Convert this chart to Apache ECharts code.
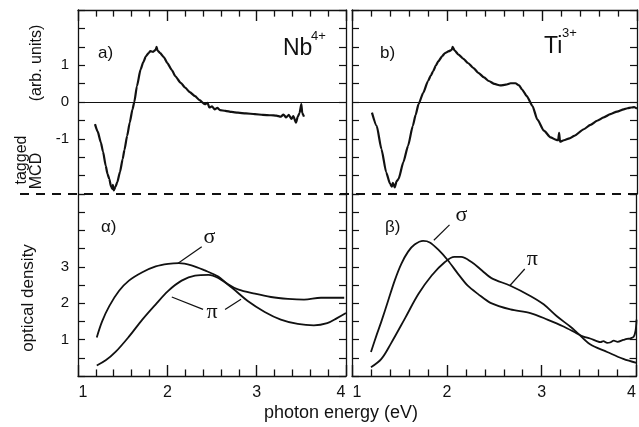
<!DOCTYPE html>
<html><head><meta charset="utf-8">
<script src="https://cdn.jsdelivr.net/npm/echarts@6/dist/echarts.min.js"></script>
<style>html,body{margin:0;padding:0;background:#fff}#c{width:639px;height:427px}</style>
</head><body><div id="c"></div>
<script>
// ---------------- data ----------------
const energyTickLabels = [1, 2, 3, 4];
const energyMinorTicks = [1.2, 1.4, 1.6, 1.8, 2.2, 2.4, 2.6, 2.8, 3.2, 3.4, 3.6, 3.8];
const mcdTickLabels = [-1, 0, 1];
const odTickLabels = [1, 2, 3];

// tagged MCD, Nb4+ : [photon energy eV, MCD]
const nbMCD = [[1.19,-0.60],[1.22,-0.80],[1.256,-1.10],[1.28,-1.35],[1.31,-1.73],[1.33,-1.95],[1.35,-2.09],[1.37,-2.30],[1.385,-2.36],[1.39,-2.25],[1.40,-2.40],[1.42,-2.30],[1.44,-2.18],[1.47,-1.90],[1.50,-1.55],[1.52,-1.30],[1.55,-0.92],[1.58,-0.55],[1.61,-0.20],[1.63,0.0],[1.66,0.43],[1.70,0.88],[1.73,1.08],[1.76,1.24],[1.79,1.33],[1.81,1.38],[1.84,1.36],[1.87,1.42],[1.88,1.50],[1.89,1.40],[1.92,1.33],[1.96,1.22],[2.00,1.06],[2.05,0.87],[2.09,0.70],[2.15,0.52],[2.20,0.39],[2.25,0.27],[2.31,0.16],[2.36,0.05],[2.42,-0.06],[2.45,-0.02],[2.47,-0.15],[2.50,-0.12],[2.53,-0.20],[2.56,-0.16],[2.59,-0.22],[2.65,-0.24],[2.72,-0.27],[2.79,-0.29],[2.88,-0.31],[2.98,-0.33],[3.07,-0.35],[3.16,-0.36],[3.22,-0.37],[3.27,-0.40],[3.30,-0.34],[3.33,-0.42],[3.36,-0.35],[3.39,-0.46],[3.41,-0.38],[3.44,-0.56],[3.46,-0.40],[3.48,-0.30],[3.50,-0.06],[3.51,-0.30],[3.53,-0.40]];

// tagged MCD, Ti3+
const tiMCD = [[1.21,-0.29],[1.26,-0.65],[1.31,-1.28],[1.36,-1.91],[1.40,-2.22],[1.42,-2.30],[1.43,-2.20],[1.45,-2.32],[1.47,-2.15],[1.49,-2.09],[1.54,-1.64],[1.59,-1.19],[1.64,-0.65],[1.67,-0.35],[1.70,-0.06],[1.75,0.25],[1.80,0.57],[1.83,0.72],[1.855,0.84],[1.88,0.98],[1.91,1.11],[1.95,1.25],[1.98,1.33],[2.02,1.38],[2.05,1.42],[2.06,1.50],[2.08,1.40],[2.12,1.29],[2.17,1.18],[2.22,1.06],[2.28,0.92],[2.33,0.79],[2.39,0.67],[2.44,0.57],[2.50,0.49],[2.56,0.45],[2.62,0.47],[2.67,0.51],[2.72,0.51],[2.76,0.45],[2.79,0.34],[2.84,0.16],[2.90,-0.11],[2.95,-0.47],[3.02,-0.78],[3.09,-0.96],[3.15,-1.03],[3.17,-1.04],[3.18,-0.84],[3.19,-1.08],[3.23,-1.04],[3.29,-0.99],[3.34,-0.92],[3.44,-0.74],[3.51,-0.62],[3.58,-0.51],[3.65,-0.42],[3.72,-0.33],[3.79,-0.26],[3.86,-0.20],[3.90,-0.17],[3.94,-0.15],[3.97,-0.14],[4.0,-0.18]];

// optical density, Nb4+
const nbSigma = [[1.21,1.06],[1.27,1.50],[1.35,1.92],[1.46,2.34],[1.57,2.62],[1.72,2.85],[1.87,3.01],[2.01,3.08],[2.13,3.10],[2.27,3.04],[2.42,2.90],[2.57,2.73],[2.68,2.52],[2.79,2.38],[2.98,2.26],[3.16,2.17],[3.35,2.12],[3.53,2.10],[3.72,2.15],[3.98,2.15]];
const nbPi = [[1.21,0.29],[1.31,0.43],[1.42,0.66],[1.57,1.08],[1.72,1.55],[1.87,1.97],[2.01,2.34],[2.16,2.62],[2.31,2.76],[2.46,2.78],[2.57,2.69],[2.72,2.43],[2.90,2.06],[3.09,1.76],[3.27,1.55],[3.46,1.43],[3.64,1.39],[3.79,1.45],[3.90,1.59],[4.0,1.73]];

// optical density, Ti3+
const tiSigma = [[1.20,0.66],[1.26,1.13],[1.31,1.50],[1.38,2.06],[1.45,2.62],[1.52,3.08],[1.59,3.41],[1.66,3.61],[1.75,3.71],[1.82,3.67],[1.91,3.47],[2.01,3.18],[2.12,2.80],[2.22,2.48],[2.33,2.25],[2.46,2.01],[2.67,1.83],[2.88,1.73],[3.06,1.55],[3.23,1.36],[3.37,1.17],[3.44,1.08],[3.51,1.03],[3.58,0.96],[3.62,0.93],[3.65,0.96],[3.69,0.91],[3.72,0.92],[3.76,0.97],[3.80,0.94],[3.86,0.99],[3.90,1.02],[3.93,1.03],[3.97,1.08],[3.99,1.25],[4.0,1.55]];
const tiPi = [[1.20,0.24],[1.31,0.47],[1.41,0.89],[1.56,1.59],[1.70,2.25],[1.84,2.76],[1.98,3.13],[2.08,3.27],[2.15,3.27],[2.26,3.13],[2.37,2.90],[2.47,2.69],[2.67,2.48],[2.88,2.20],[3.02,1.97],[3.16,1.64],[3.30,1.36],[3.37,1.20],[3.51,0.87],[3.69,0.66],[3.86,0.47],[4.0,0.36]];

// annotation leader lines and labels (data coordinates)
const nbSigmaLead = [[2.12,3.10],[2.385,3.55]];
const nbSigmaText = [2.47,3.82];
const nbPiLeadA = [[2.05,2.17],[2.40,1.83]];
const nbPiLeadB = [[2.646,1.83],[2.825,2.11]];
const nbPiText = [2.50,1.75];
const tiSigmaLead = [[1.863,3.73],[2.028,4.15]];
const tiSigmaText = [2.153,4.42];
const tiPiLead = [[2.663,2.48],[2.821,2.94]];
const tiPiText = [2.90,3.21];

// ---------------- layout ----------------
const FONT = '"Liberation Sans", Arial, sans-serif';
const SERIF = '"Liberation Serif", "DejaVu Serif", serif';
const INK = '#111';
const L0 = 78, L1 = 346, R0 = 352, R1 = 637;
const T0 = 10, MID = 194, B1 = 376;
const MINOR_LEN = 0.18;   // minor tick length in value units of the y scale

const grids = [
  {left: L0, top: T0, width: L1 - L0, height: MID - T0},
  {left: L0, top: MID, width: L1 - L0, height: B1 - MID},
  {left: R0, top: T0, width: R1 - R0, height: MID - T0},
  {left: R0, top: MID, width: R1 - R0, height: B1 - MID}
];

function xAx(gi, pos, showLabels) {
  return {
    type: 'value', gridIndex: gi, position: pos, min: 1, max: 4, interval: 1,
    axisLine: {show: true, onZero: false, lineStyle: {color: INK, width: 1.3}},
    axisTick: {show: true, inside: true, length: 11, lineStyle: {color: INK, width: 1.4}},
    splitLine: {show: false},
    axisLabel: {show: showLabels, margin: 9, color: INK, fontFamily: FONT, fontSize: 16,
      formatter: v => v === 1 ? '{l|1}' : v === 4 ? '{r|4}' : (energyTickLabels.includes(v) ? String(v) : ''),
      rich: {l: {padding: [0, 0, 0, 10], fontSize: 16, fontFamily: FONT, color: INK},
             r: {padding: [0, 10, 0, 0], fontSize: 16, fontFamily: FONT, color: INK}}}
  };
}
function yAx(gi, pos, min, max, labels) {
  return {
    type: 'value', gridIndex: gi, position: pos, min: min, max: max, interval: 0.5,
    axisLine: {show: true, onZero: false, lineStyle: {color: INK, width: 1.3}},
    axisTick: {show: true, inside: true, length: 7, lineStyle: {color: INK, width: 1.2}},
    splitLine: {show: false},
    axisLabel: {show: !!labels, margin: 9, color: INK, fontFamily: FONT, fontSize: 15,
      formatter: v => (labels && labels.includes(v)) ? String(v) : ''}
  };
}

const xAxes = [xAx(0, 'top', false), xAx(1, 'bottom', true), xAx(2, 'top', false), xAx(3, 'bottom', true)];
const yAxes = [
  yAx(0, 'left', -2.5, 2.5, mcdTickLabels), yAx(0, 'right', -2.5, 2.5, null),
  yAx(1, 'left', 0, 5, odTickLabels), yAx(1, 'right', 0, 5, null),
  yAx(2, 'left', -2.5, 2.5, null), yAx(2, 'right', -2.5, 2.5, null),
  yAx(3, 'left', 0, 5, null), yAx(3, 'right', 0, 5, null)
];

function lineItems(pairs, width) {
  return pairs.map(p => [{coord: p[0], lineStyle: {color: INK, width: width}}, {coord: p[1]}]);
}
function minorTickSegs(edge, dir) {
  return energyMinorTicks.map(v => [[v, edge], [v, edge + dir * MINOR_LEN]]);
}
function markLines(items) {
  return {silent: true, symbol: ['none', 'none'], label: {show: false},
    lineStyle: {color: INK, width: 1.2, type: 'solid'}, emphasis: {disabled: true},
    data: items};
}
function markText(pt, txt) {
  return {silent: true, symbol: 'circle', symbolSize: 1, itemStyle: {color: 'rgba(0,0,0,0)'},
    label: {show: true, position: 'inside', formatter: txt, color: INK, fontFamily: SERIF, fontSize: 22},
    data: [{coord: pt}]};
}
const zeroItem = {yAxis: 0, lineStyle: {color: INK, width: 1}};

const lineBase = {type: 'line', symbol: 'none', silent: true, animation: false};
const series = [
  Object.assign({}, lineBase, {name: 'Nb MCD', xAxisIndex: 0, yAxisIndex: 0, data: nbMCD,
    smooth: 0.2, smoothMonotone: 'x', lineStyle: {color: INK, width: 2.2},
    markLine: markLines([zeroItem].concat(lineItems(minorTickSegs(2.5, -1), 1.3)))}),
  Object.assign({}, lineBase, {name: 'Nb sigma', xAxisIndex: 1, yAxisIndex: 2, data: nbSigma, smooth: 0.35,
    lineStyle: {color: INK, width: 1.8},
    markLine: markLines(lineItems([nbSigmaLead, nbPiLeadA, nbPiLeadB], 1.2)
      .concat(lineItems(minorTickSegs(0, 1), 1.3))),
    markPoint: markText(nbSigmaText, 'σ')}),
  Object.assign({}, lineBase, {name: 'Nb pi', xAxisIndex: 1, yAxisIndex: 2, data: nbPi, smooth: 0.35,
    lineStyle: {color: INK, width: 1.8},
    markPoint: markText(nbPiText, 'π')}),
  Object.assign({}, lineBase, {name: 'Ti MCD', xAxisIndex: 2, yAxisIndex: 4, data: tiMCD,
    smooth: 0.2, smoothMonotone: 'x', lineStyle: {color: INK, width: 2.2},
    markLine: markLines([zeroItem].concat(lineItems(minorTickSegs(2.5, -1), 1.3)))}),
  Object.assign({}, lineBase, {name: 'Ti sigma', xAxisIndex: 3, yAxisIndex: 6, data: tiSigma, smooth: 0.3,
    lineStyle: {color: INK, width: 1.8},
    markLine: markLines(lineItems([tiSigmaLead, tiPiLead], 1.2)
      .concat(lineItems(minorTickSegs(0, 1), 1.3))),
    markPoint: markText(tiSigmaText, 'σ')}),
  Object.assign({}, lineBase, {name: 'Ti pi', xAxisIndex: 3, yAxisIndex: 6, data: tiPi, smooth: 0.35,
    lineStyle: {color: INK, width: 1.8},
    markPoint: markText(tiPiText, 'π')})
];

function txt(x, y, text, size, opts) {
  return Object.assign({type: 'text', x: x, y: y, silent: true,
    style: Object.assign({text: text, fill: INK, font: size + 'px ' + FONT, align: 'left', verticalAlign: 'middle'}, (opts && opts.style) || {})},
    opts && opts.rotation !== undefined ? {rotation: opts.rotation} : {});
}

const graphics = [
  {type: 'line', silent: true, shape: {x1: 20, y1: MID, x2: R1, y2: MID},
    style: {stroke: INK, lineWidth: 1.8, lineDash: [9, 7]}},
  txt(98, 53, 'a)', 17),
  txt(283, 49, 'Nb', 23),
  txt(311, 36, '4+', 13),
  txt(380, 53, 'b)', 17),
  txt(544, 47, 'Ti', 23),
  txt(562, 33, '3+', 13),
  txt(101, 227, 'α)', 17),
  txt(385, 227, 'β)', 17),
  txt(22, 160, 'tagged', 16, {rotation: Math.PI / 2, style: {align: 'center'}}),
  txt(37, 171, 'MCD', 16, {rotation: Math.PI / 2, style: {align: 'center'}}),
  txt(37, 63, '(arb. units)', 16, {rotation: Math.PI / 2, style: {align: 'center'}}),
  txt(28, 298, 'optical density', 17, {rotation: Math.PI / 2, style: {align: 'center'}}),
  txt(341, 413, 'photon energy (eV)', 18, {style: {align: 'center'}})
];

const chart = echarts.init(document.getElementById('c'), null, {renderer: 'canvas'});
chart.setOption({
  backgroundColor: '#fff',
  animation: false,
  grid: grids,
  xAxis: xAxes,
  yAxis: yAxes,
  series: series,
  graphic: graphics
});
</script>
</body></html>
